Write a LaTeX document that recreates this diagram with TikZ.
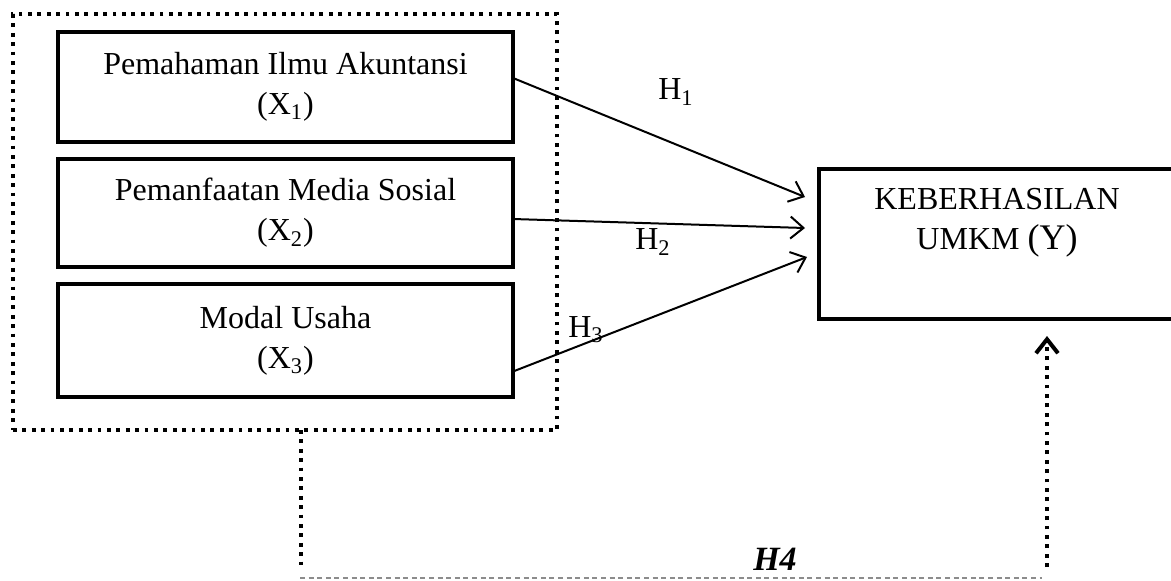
\documentclass[tikz,border=0pt]{standalone}
\usepackage{fontspec}
\setmainfont{Liberation Serif}
\usetikzlibrary{positioning,arrows.meta,calc}
\begin{document}
\begin{tikzpicture}[x=0.5pt, y=-0.5pt,
  font=\fontsize{16}{20}\selectfont,
  varbox/.style={draw, line width=2.4pt, outer sep=0pt, align=center, minimum width=227.5pt, inner sep=0pt},
  grpbox/.style={draw, line width=1.9pt, dash pattern=on 1.9pt off 2.8pt, outer sep=0pt, minimum width=272pt, minimum height=208pt},
  kebbox/.style={draw, line width=2.4pt, outer sep=0pt, minimum width=178pt, minimum height=75pt},
  harr/.style={-{Straight Barb[length=6.5pt, width=11pt, line width=1pt]}, line width=1pt},
  dotline/.style={line width=1.9pt, dash pattern=on 1.9pt off 2.8pt},
  h4arr/.style={dotline, -{Straight Barb[length=7pt, width=11pt, line width=2pt]}},
  h4line/.style={black!45, line width=0.6pt, dash pattern=on 2.5pt off 1.8pt},
  hlab/.style={inner sep=1pt},
  node distance=8.5pt]
\useasboundingbox (0,0) rectangle (1171,580);
\clip (0,0) rectangle (1171,580);
\node[varbox, minimum height=55pt] (x1) at (285.5,87) {Pemahaman Ilmu Akuntansi\\(X\textsubscript{1})};
\node[varbox, minimum height=54pt, below=of x1] (x2) {Pemanfaatan Media Sosial\\(X\textsubscript{2})};
\node[varbox, minimum height=56.5pt, below=of x2] (x3) {Modal Usaha\\(X\textsubscript{3})};
\node[grpbox] (grp) at (285,222) {};
\node[kebbox] (keb) at (997,244) {};
\node[align=center] (kebtxt) at (997,223) {KEBERHASILAN\\UMKM {\fontsize{18}{20}\selectfont(Y)}};
\coordinate (s1) at ($(x1.east)+(0,-9)$);
\coordinate (s2) at ($(x2.east)+(0,6)$);
\coordinate (s3) at ($(x3.east)+(0,31)$);
\coordinate (e1) at ($(keb.west)+(-14,-47)$);
\coordinate (e2) at ($(keb.west)+(-14,-16)$);
\coordinate (e3) at ($(keb.west)+(-12,13)$);
\draw[harr] (s1) -- (e1);
\draw[harr] (s2) -- (e2);
\draw[harr] (s3) -- (e3);
\node[hlab] (h1) at (676,92) {H\textsubscript{1}};
\node[hlab] (h2) at (653,242) {H\textsubscript{2}};
\node[hlab] (h3) at (586,330) {H\textsubscript{3}};
\coordinate (d1) at ($(grp.south)+(16,0)$);
\coordinate (d2) at ($(d1)+(0,136)$);
\coordinate (g1) at (300,578);
\coordinate (g2) at (1042,578);
\coordinate (u1) at (1047,567);
\coordinate (u2) at ($(keb.south)+(50,17)$);
\draw[dotline] (d1) -- (d2);
\draw[h4line] (g1) -- (g2);
\draw[h4arr] (u1) -- (u2);
\node[font=\fontsize{17}{20}\selectfont\bfseries\itshape] (h4) at (775,559) {H4};
\end{tikzpicture}
\end{document}
